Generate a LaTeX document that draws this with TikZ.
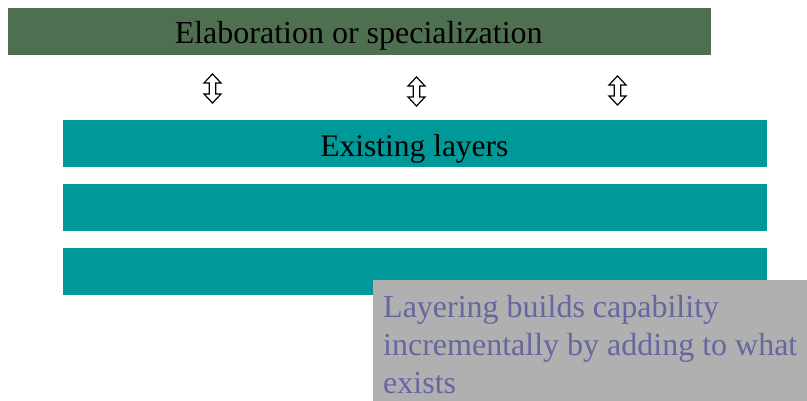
\documentclass[tikz,border=0pt]{standalone}
\usepackage{fontspec}
\setmainfont{Liberation Serif}
\definecolor{elabgreen}{HTML}{4F7050}
\definecolor{layerteal}{HTML}{009999}
\definecolor{notegray}{HTML}{B0B0B0}
\definecolor{notetext}{HTML}{6666A0}
\tikzset{
  band/.style={draw=none, inner sep=0pt, anchor=north west},
  bandtext/.style={inner sep=0pt, anchor=base, text=black},
  udarrow/.pic={
    \draw[line width=1.2pt, line join=miter, fill=white]
      (0,-14.5) -- (8.5,-5.5) -- (3.2,-5.5) -- (3.2,5.5) -- (8.5,5.5) -- (0,14.5)
      -- (-8.5,5.5) -- (-3.2,5.5) -- (-3.2,-5.5) -- (-8.5,-5.5) -- cycle;
  }
}
\begin{document}
\begin{tikzpicture}[x=1pt,y=-1pt]
\useasboundingbox (0,0) rectangle (807,401);
% top band
\node[band, fill=elabgreen, minimum width=703pt, minimum height=47pt] (elab) at (8,8) {};
\node[bandtext, font=\fontsize{32}{38}\selectfont] (elabtext) at (358.7,43.8) {Elaboration or specialization};
% arrows
\coordinate (a1) at (212.5,88.5);
\coordinate (a2) at (416.5,91.5);
\coordinate (a3) at (617.5,90.5);
\pic at (a1) {udarrow};
\pic at (a2) {udarrow};
\pic at (a3) {udarrow};
% layers
\node[band, fill=layerteal, minimum width=704pt, minimum height=47pt] (layer1) at (63,120) {};
\node[band, fill=layerteal, minimum width=704pt, minimum height=47pt] (layer2) at (63,184) {};
\node[band, fill=layerteal, minimum width=704pt, minimum height=47pt] (layer3) at (63,248) {};
\node[bandtext, font=\fontsize{31.5}{37}\selectfont] (layertext) at (414.4,156.5) {Existing layers};
% note
\node[band, fill=notegray, minimum width=434pt, minimum height=121pt] (note) at (373,280) {};
\node[inner sep=0pt, anchor=base west, text=notetext, align=left, font=\fontsize{32}{38}\selectfont] (notetext) at (383,393)
  {Layering builds capability\\incrementally by adding to what\\exists};
\end{tikzpicture}
\end{document}
